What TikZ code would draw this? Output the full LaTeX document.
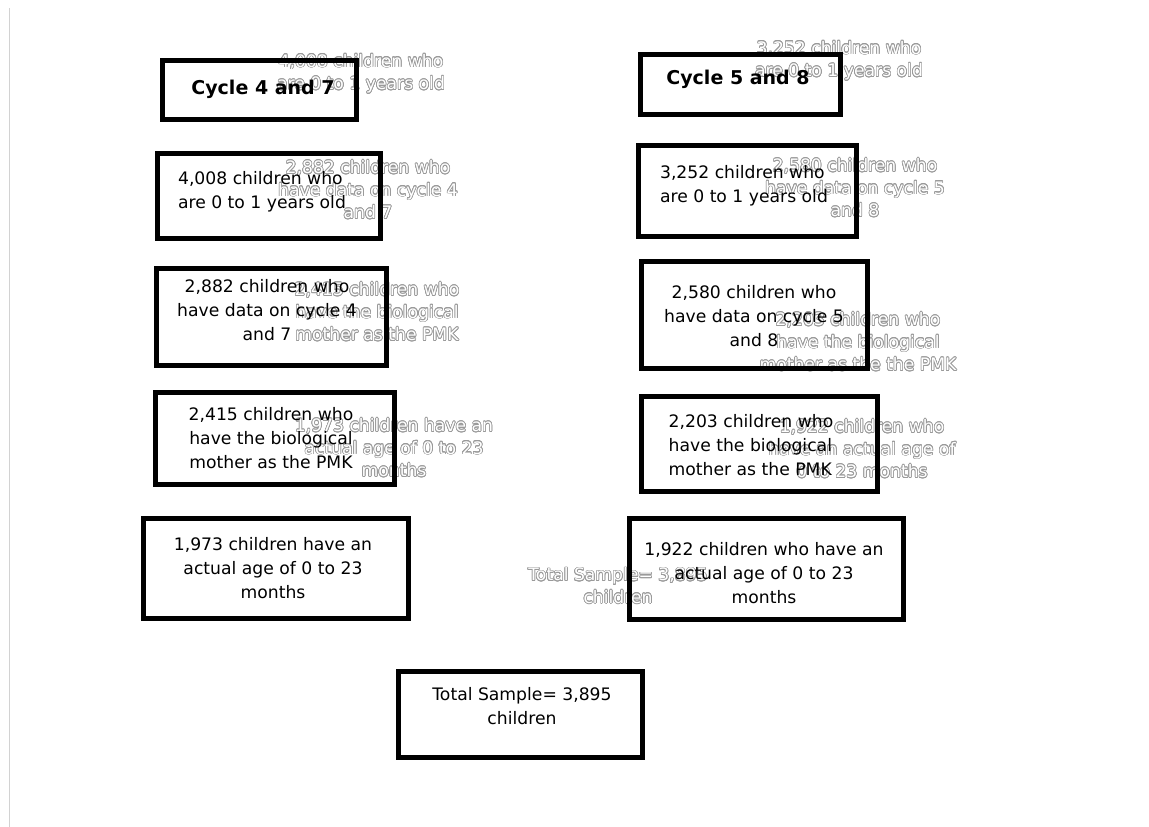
\documentclass[tikz,border=0pt]{standalone}
\usepackage{fontspec}
\setmainfont{DejaVu Sans}
\usepackage{contour}
\contourlength{0.7pt}
\contournumber{16}
\definecolor{ghostgray}{HTML}{9A9A9A}
\definecolor{edgegray}{HTML}{D2D2D2}
\newcommand\gl[1]{\contour{ghostgray}{#1}}
\tikzset{
  stagebox/.style={draw=black, line width=5pt, fill=none, inner sep=0pt},
  bodytext/.style={font=\fontsize{17.2}{24}\selectfont, text=black, inner sep=0pt, align=center},
  titletext/.style={font=\fontsize{19}{23}\selectfont\bfseries, text=black, inner sep=0pt},
  ghost/.style={font=\fontsize{17.2}{22.5}\selectfont, text=white, inner sep=0pt, align=center},
}
\begin{document}
\begin{tikzpicture}[x=1pt, y=-1pt]
\useasboundingbox (0,0) rectangle (1149,827);
\fill[white] (0,0) rectangle (1149,827);
\draw[edgegray, line width=1.5pt] (9.5,8) -- (9.5,827);

% outlined label copies lying behind the boxes
\node[ghost] (g0) at (361,74) {\gl{4,008 children who}\\\gl{are 0 to 1 years old}};
\node[ghost] (g1) at (839,61) {\gl{3,252 children who}\\\gl{are 0 to 1 years old}};
\node[ghost] (g2) at (368,190) {\gl{2,882 children who}\\\gl{have data on cycle 4}\\\gl{and 7}};
\node[ghost] (g3) at (855,188) {\gl{2,580 children who}\\\gl{have data on cycle 5}\\\gl{and 8}};
\node[ghost] (g4) at (377,312) {\gl{2,415 children who}\\\gl{have the biological}\\\gl{mother as the PMK}};
\node[ghost] (g5) at (858,342) {\gl{2,203 children who}\\\gl{have the biological}\\\gl{mother as the the PMK}};
\node[ghost] (g6) at (394,448) {\gl{1,973 children have an}\\\gl{actual age of 0 to 23}\\\gl{months}};
\node[ghost] (g7) at (862,449) {\gl{1,922 children who}\\\gl{have an actual age of}\\\gl{0 to 23 months}};
\node[ghost] (g8) at (618,586) {\gl{Total Sample= 3,895}\\\gl{children}};

% left column: cycles 4 and 7
\node[stagebox, minimum width=194pt, minimum height=59pt] (l0) at (259.5,90) {};
\node[stagebox, minimum width=223pt, minimum height=85pt] (l1) at (269,196) {};
\node[stagebox, minimum width=230pt, minimum height=97pt] (l2) at (271.5,317) {};
\node[stagebox, minimum width=239pt, minimum height=92pt] (l3) at (275,438.5) {};
\node[stagebox, minimum width=265pt, minimum height=100pt] (l4) at (276,568.5) {};

% right column: cycles 5 and 8
\node[stagebox, minimum width=200pt, minimum height=60pt] (r0) at (740.5,84.5) {};
\node[stagebox, minimum width=218pt, minimum height=91pt] (r1) at (747.5,191) {};
\node[stagebox, minimum width=226pt, minimum height=107pt] (r2) at (754.5,315) {};
\node[stagebox, minimum width=236pt, minimum height=95pt] (r3) at (759.5,444) {};
\node[stagebox, minimum width=274pt, minimum height=101pt] (r4) at (766.5,569) {};

% pooled sample
\node[stagebox, minimum width=244pt, minimum height=86pt] (tot) at (520.5,714.5) {};

% box texts
\node[titletext] (l0t) at (263,89) {Cycle 4 and 7};
\node[bodytext, align=left] (l1t) at (262,192) {4,008 children who\\are 0 to 1 years old};
\node[bodytext] (l2t) at (267,310) {2,882 children who\\have data on cycle 4\\and 7};
\node[bodytext] (l3t) at (271,438) {2,415 children who\\have the biological\\mother as the PMK};
\node[bodytext] (l4t) at (273,568) {1,973 children have an\\actual age of 0 to 23\\months};

\node[titletext] (r0t) at (738,79) {Cycle 5 and 8};
\node[bodytext, align=left] (r1t) at (744,186) {3,252 children who\\are 0 to 1 years old};
\node[bodytext] (r2t) at (754,316) {2,580 children who\\have data on cycle 5\\and 8};
\node[bodytext, align=left] (r3t) at (751,445) {2,203 children who\\have the biological\\mother as the PMK};
\node[bodytext] (r4t) at (764,573) {1,922 children who have an\\actual age of 0 to 23\\months};

\node[bodytext] (tott) at (522,706) {Total Sample= 3,895\\children};
\end{tikzpicture}
\end{document}
